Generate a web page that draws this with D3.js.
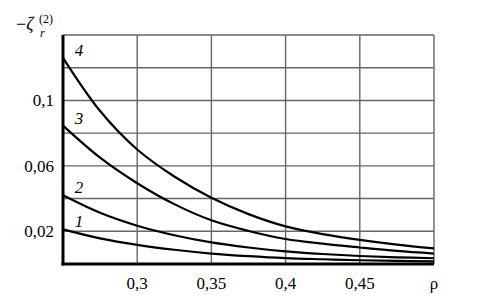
<!DOCTYPE html>
<html>
<head>
<meta charset="utf-8">
<script src="https://cdn.jsdelivr.net/npm/d3@7"></script>
<style>
  body { margin: 0; background: #fff; }
</style>
</head>
<body>
<div id="chart"></div>
<script>
// rho values shared by all curves
const rhoValues = [0.25, 0.275, 0.3, 0.325, 0.35, 0.375, 0.4, 0.425, 0.45, 0.475, 0.5];

// -zeta_r^(2) for each curve
const curve1 = [0.0212, 0.0157, 0.0117, 0.0087, 0.0064, 0.0048, 0.0036, 0.0029, 0.0023, 0.0019, 0.0016];
const curve2 = [0.0420, 0.0313, 0.0234, 0.0176, 0.0132, 0.0101, 0.0077, 0.0061, 0.0049, 0.0041, 0.0035];
const curve3 = [0.0846, 0.0650, 0.0494, 0.0366, 0.0267, 0.0202, 0.0153, 0.0124, 0.0101, 0.0080, 0.0064];
const curve4 = [0.1260, 0.0935, 0.0700, 0.0535, 0.0405, 0.0305, 0.0230, 0.0183, 0.0147, 0.0118, 0.0095];

const curveNames = ["1", "2", "3", "4"];
const seriesValues = [curve1, curve2, curve3, curve4];

const xGridTicks = [0.3, 0.35, 0.4, 0.45, 0.5];
const xTickLabels = ["0,3", "0,35", "0,4", "0,45", "ρ"];
const yGridTicks = [0.02, 0.04, 0.06, 0.08, 0.1, 0.12, 0.14];
const yLabelTicks = [0.02, 0.06, 0.1];
const yTickLabels = ["0,02", "0,06", "0,1"];

const serif = "Liberation Serif";

const width = 478, height = 296;
const margin = {top: 35, right: 44, bottom: 32, left: 63};

const svg = d3.select("#chart")
    .append("svg")
    .attr("width", width)
    .attr("height", height);

const x = d3.scaleLinear()
    .domain([0.25, 0.5])
    .range([margin.left, width - margin.right]);

const y = d3.scaleLinear()
    .domain([0, 0.14])
    .range([height - margin.bottom, margin.top]);

// grid
svg.append("g")
    .selectAll("line")
    .data(xGridTicks)
    .join("line")
    .attr("x1", d => x(d))
    .attr("x2", d => x(d))
    .attr("y1", y(0))
    .attr("y2", y(0.14))
    .attr("stroke", "#666")
    .attr("stroke-width", 1.4);

svg.append("g")
    .selectAll("line")
    .data(yGridTicks)
    .join("line")
    .attr("x1", x(0.25))
    .attr("x2", x(0.5))
    .attr("y1", d => y(d))
    .attr("y2", d => y(d))
    .attr("stroke", "#666")
    .attr("stroke-width", 1.4);

// curves
const line = d3.line()
    .x((d, i) => x(rhoValues[i]))
    .y(d => y(d))
    .curve(d3.curveCatmullRom);

svg.append("g")
    .selectAll("path")
    .data(seriesValues)
    .join("path")
    .attr("d", d => line(d))
    .attr("fill", "none")
    .attr("stroke", "#000")
    .attr("stroke-width", 2.2);

// axes (thick left and bottom)
svg.append("line")
    .attr("x1", x(0.25)).attr("x2", x(0.25))
    .attr("y1", y(0.14)).attr("y2", y(0) + 1.5)
    .attr("stroke", "#000").attr("stroke-width", 3);

svg.append("line")
    .attr("x1", x(0.25) - 1.5).attr("x2", x(0.5))
    .attr("y1", y(0)).attr("y2", y(0))
    .attr("stroke", "#000").attr("stroke-width", 3);

// curve numbers
svg.append("g")
    .selectAll("text")
    .data(seriesValues)
    .join("text")
    .attr("x", x(0.25) + 16)
    .attr("y", d => y(d[0]) - 2)
    .attr("text-anchor", "middle")
    .attr("font-family", serif)
    .attr("font-style", "italic")
    .attr("font-size", 17)
    .text((d, i) => curveNames[i]);

// tick labels
svg.append("g")
    .selectAll("text")
    .data(yLabelTicks)
    .join("text")
    .attr("x", 54)
    .attr("y", d => y(d) + 6)
    .attr("text-anchor", "end")
    .attr("font-family", serif)
    .attr("font-size", 17)
    .text((d, i) => yTickLabels[i]);

svg.append("g")
    .selectAll("text")
    .data(xGridTicks)
    .join("text")
    .attr("x", d => x(d))
    .attr("y", 289)
    .attr("text-anchor", "middle")
    .attr("font-family", serif)
    .attr("font-size", 17)
    .text((d, i) => xTickLabels[i]);

// y title: -zeta_r^(2)
svg.append("text")
    .attr("x", 16)
    .attr("y", 30)
    .attr("font-family", serif)
    .attr("font-size", 18)
    .text("−")
    .append("tspan")
    .attr("font-style", "italic")
    .text("ζ");
svg.append("text")
    .attr("x", 40).attr("y", 37)
    .attr("font-family", serif)
    .attr("font-style", "italic").attr("font-size", 12)
    .text("r");
svg.append("text")
    .attr("x", 39).attr("y", 23)
    .attr("font-family", serif)
    .attr("font-size", 12)
    .text("(2)");
</script>
</body>
</html>
